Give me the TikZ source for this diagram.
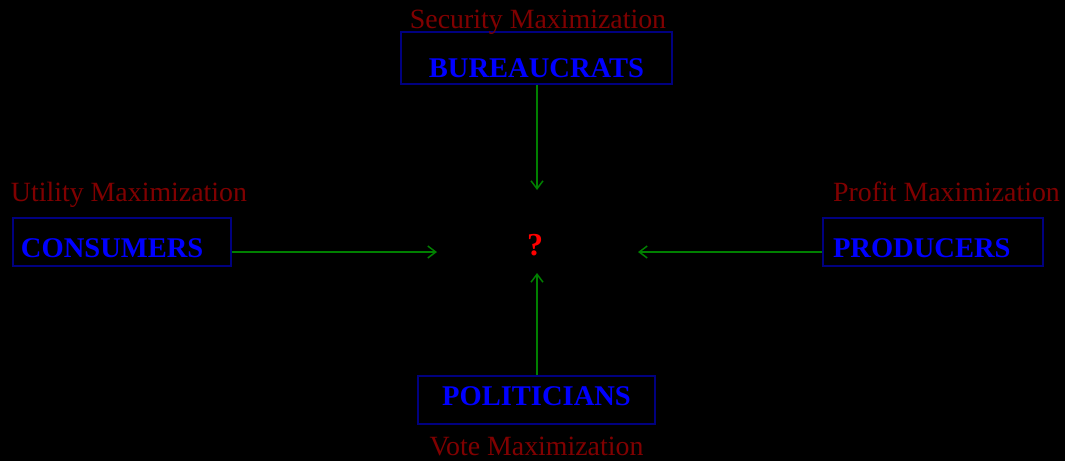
\documentclass[tikz,border=0pt]{standalone}
\usepackage{fontspec}
\setmainfont{Liberation Serif}
\usepackage{tikz}
\usetikzlibrary{positioning}
\usetikzlibrary{arrows.meta}

\definecolor{boxblue}{RGB}{0,0,128}
\definecolor{namblue}{RGB}{0,0,255}
\definecolor{goalred}{RGB}{128,0,0}
\definecolor{arrgreen}{RGB}{0,128,0}

\begin{document}
\begin{tikzpicture}
		[x=0.75pt, y=-0.75pt,
		 actor/.style={draw=boxblue, line width=1.1pt, text=namblue, inner sep=0pt,
		   font=\fontsize{21.4pt}{24pt}\selectfont\bfseries},
		 goal/.style={text=goalred, inner sep=0pt, anchor=base,
		   font=\fontsize{20.9pt}{24pt}\selectfont},
		 flow/.style={draw=arrgreen, line width=1.1pt, -{Straight Barb[length=6pt, width=9pt]}}]
		\fill[black] (0,0) rectangle (1065,461);
		\useasboundingbox (0,0) rectangle (1065,461);

		\node[actor, minimum width=203.25pt, text height=33.75pt, text depth=5.25pt] (bur) at (536.5,58) {BUREAUCRATS};
		\node[actor, text width=151.5pt, inner xsep=6pt, align=left, text height=29.25pt, text depth=6.75pt] (con) at (122,242) {CONSUMERS};
		\node[actor, text width=150pt, inner xsep=7.5pt, align=left, text height=29.25pt, text depth=6.75pt] (pro) at (933,242) {PRODUCERS};
		\node[actor, minimum width=177.75pt, text height=21.75pt, text depth=14.25pt] (pol) at (536.5,400) {POLITICIANS};

		\node[goal] (secmax) at (538,28) {Security Maximization};
		\node[goal] (utimax) at (129,201) {Utility Maximization};
		\node[goal] (promax) at (946.5,201) {Profit Maximization};
		\node[goal] (votmax) at (536.5,455) {Vote Maximization};

		\node[text=red, inner sep=0pt, anchor=base, font=\fontsize{24pt}{24pt}\selectfont\bfseries] (q) at (535,255) {?};

		\coordinate (qn) at (537,190);
		\coordinate (qs) at (537,273);
		\coordinate (qw) at (437,252);
		\coordinate (qe) at (638,252);

		\draw[flow] (bur.south -| qn) -- (qn);
		\draw[flow] (pol.north -| qs) -- (qs);
		\draw[flow] (con.east |- qw) -- (qw);
		\draw[flow] (pro.west |- qe) -- (qe);
	\end{tikzpicture}
\end{document}
